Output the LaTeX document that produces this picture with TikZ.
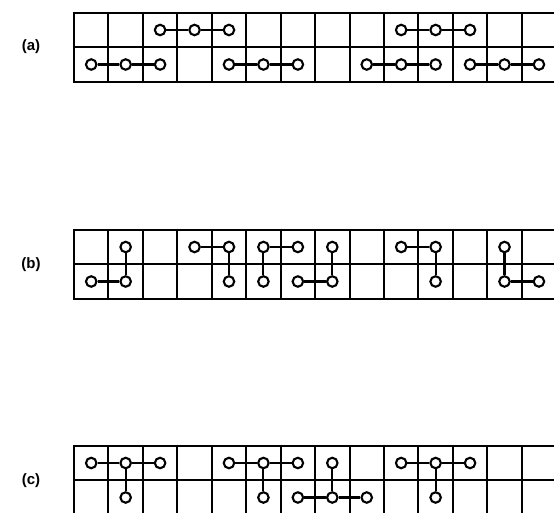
\documentclass[tikz,border=0pt]{standalone}
\usepackage{fontspec}
\setmainfont{Liberation Sans}
\begin{document}
\begin{tikzpicture}[x=1pt,y=-1pt,
  gridline/.style={line width=2.4pt},
  dot/.style={circle,draw,fill=white,line width=2.1pt,minimum size=10.5pt,inner sep=0pt},
  link/.style={line width=2.1pt},
  lab/.style={font=\fontsize{15}{17}\selectfont\bfseries}]
\useasboundingbox (0,0) rectangle (554,513);
\fill[white] (0,0) rectangle (554,513);
\clip (0,0) rectangle (554,513);
\def\cw{34.44}
% grids
\foreach \r/\ya/\yb/\yc in {a/13/47/82,b/230/264/299,c/446/480/515}{
  \foreach \y in {\ya,\yb,\yc}
    \draw[gridline] (72.8,\y) -- (560,\y);
  \foreach \x in {74,108,143,177,212,246,281,315,350,384,418,453,487,522}
    \draw[gridline] (\x,{\ya-1.2}) -- (\x,{\yc+1.2});
}
% labels
\node[lab] (la) at (31,47.1) {(a)};
\node[lab] (lb) at (31,264.4) {(b)};
\node[lab] (lc) at (31,480.4) {(c)};
% dots row a
\foreach \c in {3,4,5,10,11,12}
  \node[dot] (a\c-t) at ({74+\cw*(\c-0.5)},30) {};
\foreach \c in {1,2,3,5,6,7,9,10,11,12,13,14}
  \node[dot] (a\c-b) at ({74+\cw*(\c-0.5)},64.5) {};
% dots row b
\foreach \c in {2,4,5,6,7,8,10,11,13}
  \node[dot] (b\c-t) at ({74+\cw*(\c-0.5)},247) {};
\foreach \c in {1,2,5,6,7,8,11,13,14}
  \node[dot] (b\c-b) at ({74+\cw*(\c-0.5)},281.5) {};
% dots row c
\foreach \c in {1,2,3,5,6,7,8,10,11,12}
  \node[dot] (c\c-t) at ({74+\cw*(\c-0.5)},463) {};
\foreach \c in {2,6,7,8,9,11}
  \node[dot] (c\c-b) at ({74+\cw*(\c-0.5)},497.5) {};
% links row a
\foreach \p/\q in {a3-t/a4-t,a4-t/a5-t,a10-t/a11-t,a11-t/a12-t,
  a1-b/a2-b,a2-b/a3-b,a5-b/a6-b,a6-b/a7-b,a9-b/a10-b,a10-b/a11-b,
  a12-b/a13-b,a13-b/a14-b}
  \draw[link] (\p) -- (\q);
% links row b
\foreach \p/\q in {b1-b/b2-b,b2-b/b2-t,b4-t/b5-t,b5-t/b5-b,b6-b/b6-t,b6-t/b7-t,
  b7-b/b8-b,b8-b/b8-t,b10-t/b11-t,b11-t/b11-b,b13-t/b13-b,b13-b/b14-b}
  \draw[link] (\p) -- (\q);
% links row c
\foreach \p/\q in {c1-t/c2-t,c2-t/c3-t,c2-t/c2-b,c5-t/c6-t,c6-t/c7-t,c6-t/c6-b,
  c7-b/c8-b,c8-b/c9-b,c8-b/c8-t,c10-t/c11-t,c11-t/c12-t,c11-t/c11-b}
  \draw[link] (\p) -- (\q);
\end{tikzpicture}
\end{document}
